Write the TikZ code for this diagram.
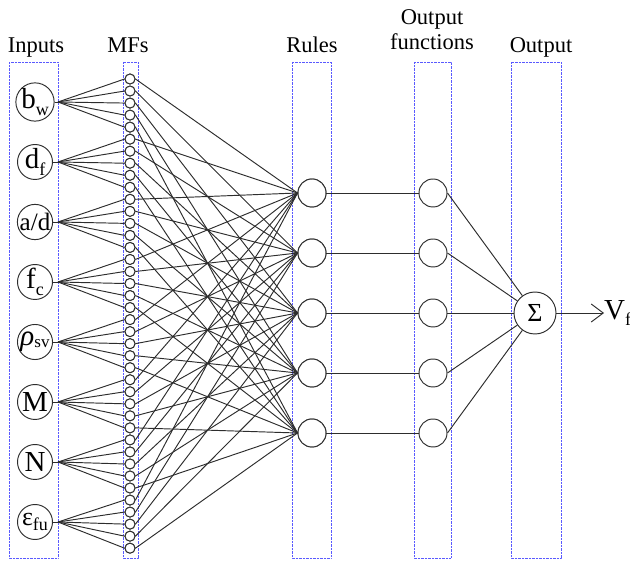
\documentclass[tikz,border=0pt]{standalone}
\usepackage{fontspec}
\setmainfont{Liberation Serif}
\usetikzlibrary{arrows.meta}
\newcommand{\myfs}[1]{\fontsize{#1}{#1}\selectfont}
\newcommand{\mysub}[2][-0.22em]{\raisebox{#1}{\myfs{18}#2}}
\definecolor{boxblue}{RGB}{90,90,255}
\definecolor{linegray}{RGB}{45,45,45}
\tikzset{
  layerbox/.style={draw=boxblue, line width=0.7pt, dash pattern=on 0.7pt off 0.7pt},
  conn/.style={draw=linegray, line width=0.95pt},
  inputnode/.style={circle, draw=linegray, line width=0.95pt, fill=white, minimum size=35pt, inner sep=0pt, font=\myfs{29}},
  mfnode/.style={circle, draw=linegray, line width=0.95pt, fill=white, minimum size=10pt, inner sep=0pt},
  rulenode/.style={circle, draw=linegray, line width=0.95pt, fill=white, minimum size=28pt, inner sep=0pt},
  sumnode/.style={circle, draw=linegray, line width=0.95pt, fill=white, minimum size=42pt, inner sep=0pt, font=\myfs{26}},
  header/.style={anchor=base, font=\myfs{22.5}, inner sep=0pt}
}
\begin{document}
\begin{tikzpicture}[x=1pt,y=-1pt]
\useasboundingbox (0,0) rectangle (630,561);
% headers
\node[header] (hin) at (36,53) {Inputs};
\node[header] (hmf) at (128,53) {MFs};
\node[header] (hru) at (312,53) {Rules};
\node[header] (hof1) at (432,25) {Output};
\node[header] (hof2) at (432,50) {functions};
\node[header] (hout) at (541,53) {Output};
% boxes
\draw[layerbox] (9,62) rectangle (58,558);
\draw[layerbox] (123,62) rectangle (138,558);
\draw[layerbox] (292,62) rectangle (331,558);
\draw[layerbox] (414,62) rectangle (451,558);
\draw[layerbox] (511,62) rectangle (561,558);
% inputs
\foreach \k/\lab in {0/{b\mysub{w}},1/{d\mysub{f}},2/{\myfs{25}a/d},3/{f\mysub{c}},4/{\textit{ρ}\mysub[-0.06em]{\myfs{17}sv}},5/{M},6/{N},7/{\myfs{26}ε\mysub{fu}}}{
  \node[inputnode] (in\k) at (35,{102+60*\k}) {\lab};
  \coordinate (h\k) at (58,{102+60*\k});
  \draw[conn] (in\k.east) -- (h\k);
}
% MFs
\foreach \i in {0,...,39}{
  \node[mfnode] (mf\i) at (130,{79+12.03*\i}) {};
}
% rules and output functions
\foreach \j in {0,...,4}{
  \node[rulenode] (r\j) at (312,{193+60*\j}) {};
  \node[rulenode] (o\j) at (433,{193+60*\j}) {};
}
\node[sumnode] (sig) at (535,313) {Σ};
\node[anchor=west, inner sep=0pt, font=\myfs{29}] (vf) at (604,313) {V\mysub{f}};
% connections
\foreach \k in {0,...,7}{
  \foreach \j in {0,...,4}{
    \pgfmathtruncatemacro\i{5*\k+\j}
    \draw[conn] (h\k) -- (mf\i.west);
    \draw[conn] (mf\i.east) -- (r\j.west);
  }
}
\foreach \j in {0,...,4}{
  \draw[conn] (r\j.east) -- (o\j.west);
  \draw[conn] (o\j.east) -- (sig);
}
\draw[conn, -{Straight Barb[length=12pt,width=18pt]}] (sig.east) -- (vf.west);
% redraw nodes on top
\foreach \i in {0,...,39}{
  \node[mfnode] at (mf\i) {};
}
\foreach \j in {0,...,4}{
  \node[rulenode] at (r\j) {};
}
\end{tikzpicture}
\end{document}
